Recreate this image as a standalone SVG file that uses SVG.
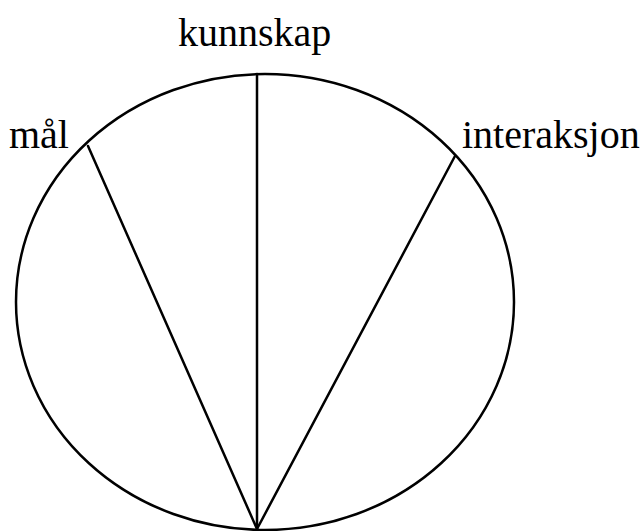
<svg xmlns="http://www.w3.org/2000/svg" width="640" height="531" viewBox="0 0 640 531">
<style>
.s{fill:none;stroke:#000;stroke-width:2.5;stroke-linecap:round}
.t{font-family:'Liberation Serif','DejaVu Serif',serif;font-size:40px;fill:#000}
</style>
<rect width="640" height="531" fill="#fff"/>
<g id="circle"><ellipse class="s" cx="265" cy="302" rx="249" ry="228"/></g>
<g id="connectors">
<line class="s" x1="257" y1="529" x2="257" y2="74"/>
<line class="s" x1="257" y1="529" x2="88" y2="146"/>
<line class="s" x1="257" y1="529" x2="455" y2="156"/>
</g>
<g id="kunnskap"><text class="t" x="178" y="46">kunnskap</text></g>
<g id="maal"><text class="t" x="9" y="148">mål</text></g>
<g id="interaksjon"><text class="t" x="462" y="148">interaksjon</text></g>
</svg>
